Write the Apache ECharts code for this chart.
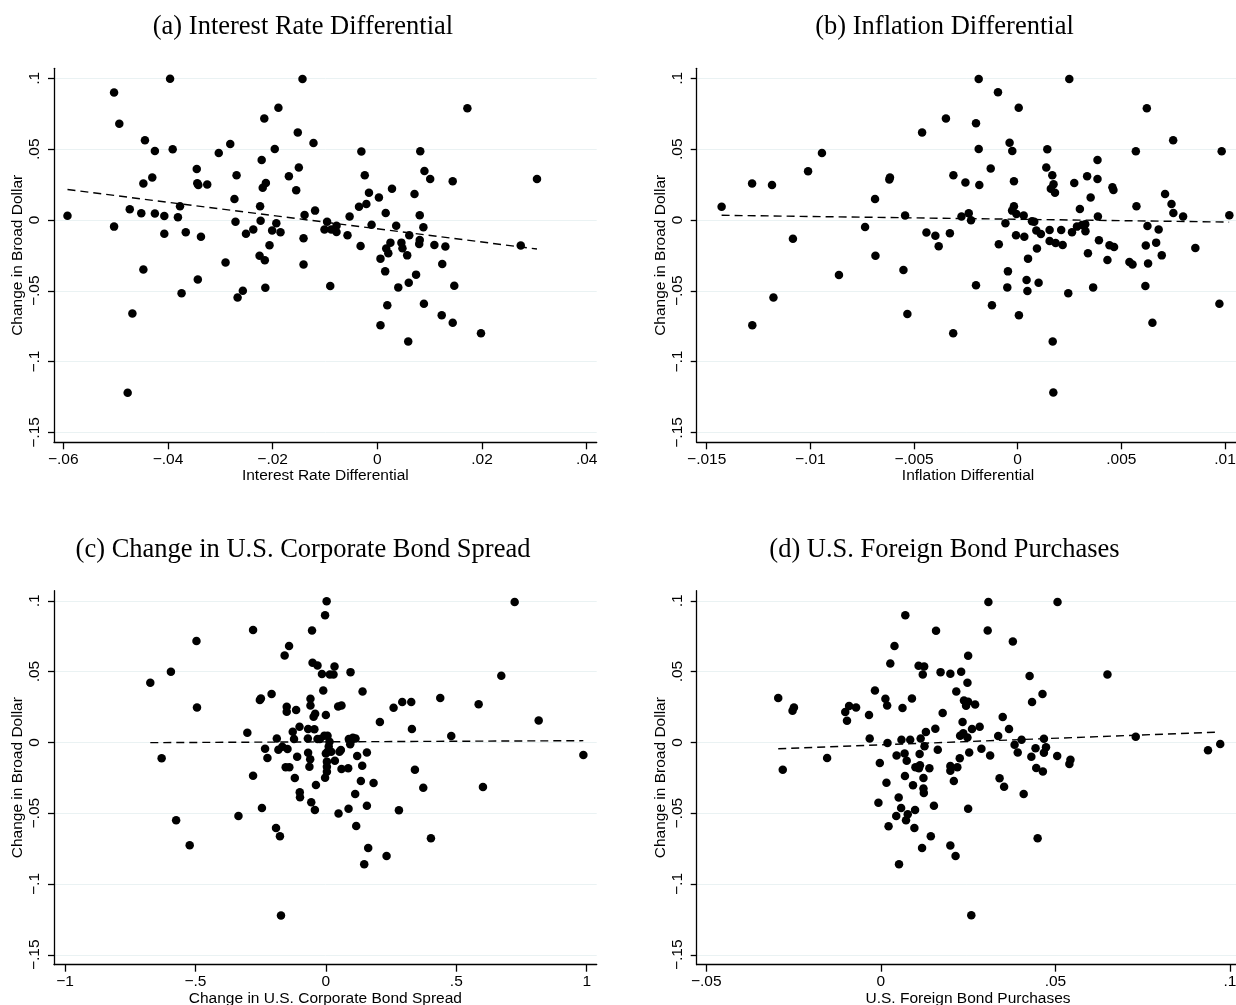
<!DOCTYPE html>
<html>
<head>
<meta charset="utf-8">
<script src="https://cdn.jsdelivr.net/npm/echarts@6/dist/echarts.min.js"></script>
<style>
html,body{margin:0;padding:0;background:#fff;}
#chart{width:1236px;height:1005px;}
</style>
</head>
<body>
<div id="chart"></div>
<script>
// ---------- Panel titles and axis names ----------
const panelTitles = ['(a) Interest Rate Differential', '(b) Inflation Differential',
  '(c) Change in U.S. Corporate Bond Spread', '(d) U.S. Foreign Bond Purchases'];
const xAxisNames = ['Interest Rate Differential', 'Inflation Differential',
  'Change in U.S. Corporate Bond Spread', 'U.S. Foreign Bond Purchases'];
const yAxisName = 'Change in Broad Dollar';

// ---------- Tick values and labels ----------
const yTicks = [-0.15, -0.1, -0.05, 0, 0.05, 0.1];
const yTickLabels = ['\u2212.15', '\u2212.1', '\u2212.05', '0', '.05', '.1'];
const xTicksA = [-0.06, -0.04, -0.02, 0, 0.02, 0.04];
const xTickLabelsA = ['\u2212.06', '\u2212.04', '\u2212.02', '0', '.02', '.04'];
const xTicksB = [-0.015, -0.01, -0.005, 0, 0.005, 0.01];
const xTickLabelsB = ['\u2212.015', '\u2212.01', '\u2212.005', '0', '.005', '.01'];
const xTicksC = [-1, -0.5, 0, 0.5, 1];
const xTickLabelsC = ['\u22121', '\u2212.5', '0', '.5', '1'];
const xTicksD = [-0.05, 0, 0.05, 0.1];
const xTickLabelsD = ['\u2212.05', '0', '.05', '.1'];

// ---------- (a) Interest Rate Differential ----------
const aX = [-0.0592,-0.0503,-0.0503,-0.0493,-0.0477,-0.0473,-0.0468,-0.0451,-0.0447,-0.0447,
  -0.0444,-0.0430,-0.0425,-0.0425,-0.0407,-0.0407,-0.0396,-0.0391,-0.0381,-0.0377,
  -0.0374,-0.0366,-0.0345,-0.0344,-0.0343,-0.0342,-0.0337,-0.0325,-0.0303,-0.0290,
  -0.0281,-0.0273,-0.0271,-0.0269,-0.0267,-0.0257,-0.0251,-0.0237,-0.0225,-0.0224,
  -0.0223,-0.0221,-0.0219,-0.0216,-0.0215,-0.0214,-0.0213,-0.0206,-0.0201,-0.0196,
  -0.0193,-0.0189,-0.0185,-0.0169,-0.0155,-0.0152,-0.0150,-0.0143,-0.0141,-0.0141,
  -0.0139,-0.0122,-0.0119,-0.0101,-0.0096,-0.0090,
  -0.00305,-0.0024,-0.0016,0.0003,-0.0035,-0.0021,-0.0053,-0.0088,-0.0078,-0.0078,
  -0.0057,-0.0011,-0.0032,0.0028,0.0016,0.0036,0.0025,0.0017,0.0021,0.0006,
  0.0015,0.0019,0.0006,0.0040,0.0046,0.0048,0.0057,0.0061,0.0060,0.0059,
  0.0074,0.0071,0.0082,0.0090,0.0101,0.0081,0.0088,0.0081,0.0080,0.0089,
  0.0109,0.0130,0.0124,0.0123,0.0144,0.0147,0.0144,0.0172,0.0198,0.0274,0.0305];
const aY = [0.003,0.090,-0.0047,0.068,-0.122,0.0075,-0.066,0.0047,0.0257,-0.035,
  0.0563,0.030,0.0487,0.0045,0.0028,-0.0097,0.0998,0.050,0.002,0.0097,
  -0.0518,-0.0087,0.036,0.026,-0.042,0.0247,-0.0118,0.025,0.0473,-0.030,
  0.0537,0.0148,-0.0012,0.0315,-0.0548,-0.050,-0.0097,-0.0068,-0.0252,0.0097,
  -0.0005,0.0424,0.0228,0.0716,-0.0285,-0.0478,0.0261,-0.0179,-0.0075,0.0501,
  -0.0024,0.0793,-0.0087,0.0308,0.021,0.0617,0.037,0.0996,-0.0129,-0.0315,
  0.0035,0.0544,0.0066,-0.0068,-0.0012,-0.0466,
  0.0483,0.0315,0.0193,0.0158,0.0094,0.0113,0.0024,-0.0068,-0.0085,-0.004,
  -0.0108,-0.0033,-0.0184,0.0221,0.0049,-0.004,-0.016,-0.0202,-0.0235,-0.0273,
  -0.0363,-0.0603,-0.0744,-0.0476,-0.016,-0.020,-0.025,-0.0108,-0.0443,-0.0859,
  -0.0386,0.0184,0.0485,0.0346,0.029,0.0033,-0.0052,-0.0141,-0.017,-0.0591,
  -0.0177,-0.0188,-0.0311,-0.0673,0.0273,-0.0464,-0.0725,0.0789,-0.080,-0.0181,0.029];
const aFitX = [-0.0592, 0.0305];
const aFitY = [0.0215, -0.0205];

// ---------- (b) Inflation Differential ----------
const bX = [-0.01428,-0.01281,-0.0128,-0.01185,-0.01178,-0.01084,-0.01011,-0.00944,-0.00862,-0.00736,
  -0.00688,-0.00686,-0.00619,-0.00616,-0.00551,-0.00543,-0.00532,-0.00461,-0.00440,-0.00397,
  -0.00381,-0.00346,-0.00327,-0.0031,-0.00311,-0.00271,-0.00252,-0.00236,-0.00225,-0.00201,
  -0.00201,-0.00188,-0.00188,-0.00185,-0.0013,-0.00124,-0.00095,-0.00091,-0.00059,-0.0005,
  -0.00047,-0.00039,-0.00026,-0.00018,-0.00018,-0.00027,-0.00006,-0.00008,0.00005,0.00006,
  0.00029,0.00032,0.00043,0.00047,0.0005,0.00069,0.0008,0.0009,0.00093,0.00101,
  0.00112,0.00138,0.00143,0.00154,0.00154,0.00167,0.00169,0.00172,0.00173,0.0016,
  0.0018,0.00183,0.0021,0.00217,0.00244,0.00249,0.00262,0.00273,0.00286,0.003,
  0.0031,0.00326,0.00327,0.00335,0.00339,0.00352,0.00364,0.00385,0.00385,0.00387,
  0.00392,0.00433,0.00443,0.00457,0.00462,0.00465,0.00539,0.00554,0.0057,0.00573,
  0.00616,0.00618,0.00623,0.00626,0.00629,0.0065,0.00668,0.0068,0.00695,0.00711,
  0.00742,0.0075,0.00751,0.00798,0.00857,0.00973,0.00984,0.01021];
const bY = [0.0094,0.0257,-0.0744,0.0247,-0.0548,-0.0132,0.0344,0.0473,-0.0388,-0.0049,
  0.0148,-0.0252,0.0285,0.0300,-0.0353,0.0031,-0.0664,0.0617,-0.0089,-0.0111,
  -0.0186,0.0716,-0.0094,0.0315,-0.080,0.0024,0.0264,0.0047,-0.0002,0.0683,
  -0.0461,0.0996,0.0501,0.0247,0.0363,-0.0603,0.0902,-0.0172,-0.0024,-0.0476,
  -0.0363,0.0546,0.0487,0.0273,0.0097,0.0066,0.0042,-0.0108,0.0793,-0.0673,
  0.0031,-0.0118,-0.0424,-0.0501,-0.0273,-0.0009,-0.0012,-0.0075,-0.0202,-0.0443,
  -0.0099,0.037,0.0499,-0.0071,-0.0148,0.0315,-0.0859,-0.1219,0.0252,0.0221,
  0.0193,-0.0162,-0.0071,-0.0177,-0.0518,0.0996,-0.0087,0.0261,-0.0047,0.0078,
  -0.0035,-0.0031,-0.008,0.0308,-0.0235,0.0158,-0.0476,0.0424,0.029,0.0024,
  -0.0144,-0.0282,-0.0179,0.0231,0.0212,-0.0191,-0.0297,-0.0315,0.0485,0.0097,
  -0.0466,-0.0181,0.0789,-0.0042,-0.0308,-0.0725,-0.016,-0.0068,-0.025,0.0184,
  0.0113,0.0563,0.0049,0.0024,-0.0198,-0.0591,0.0485,0.0033];
const bFitX = [-0.01428, 0.0102];
const bFitY = [0.0033, -0.0015];

// ---------- (c) Change in U.S. Corporate Bond Spread ----------
const cX = [-0.673,-0.6295,-0.594,-0.574,-0.522,-0.496,-0.494,-0.335,-0.301,-0.279,
  -0.279,-0.253,-0.249,-0.245,-0.233,-0.224,-0.208,-0.191,-0.188,-0.182,
  -0.176,-0.172,-0.167,-0.158,-0.154,-0.150,-0.150,-0.147,-0.141,-0.140,
  -0.127,-0.122,-0.119,-0.114,-0.110,-0.101,-0.100,-0.099,-0.069,-0.068,
  -0.068,-0.063,-0.060,-0.059,-0.059,-0.056,-0.053,-0.051,-0.047,-0.044,
  -0.042,-0.041,-0.038,-0.032,-0.032,-0.023,-0.015,-0.010,-0.003,0.000,
  -0.003,0.003,0.0153,0.0294,0.0332,0.0946,0.0473,0.060,0.1407,0.2596,
  0.2928,0.3274,0.4386,0.5857,0.6726,0.7238,0.2072,0.3299,0.4808,0.8159,
  0.9872,-0.006,0.0064,0.014,0.000,0.0064,0.0205,0.004,0.004,0.004,
  0.011,0.0345,0.0524,0.0575,0.060,0.0857,0.088,0.096,0.1036,0.1138,
  0.0934,0.1202,0.1573,0.1394,0.1343,0.1829,0.1125,0.1573,0.087,0.0486,
  0.1164,0.1624,0.1471,0.2327,0.2801,0.3414,0.3734,0.4028,0.6023];
const cY = [0.0421,-0.0113,0.0499,-0.055,-0.0727,0.0715,0.0247,-0.052,0.0068,0.0793,
  -0.0235,0.0299,0.031,-0.0463,-0.0045,-0.011,0.0341,-0.0604,0.0028,-0.0052,
  -0.0663,-0.1223,-0.0031,0.0614,-0.0176,0.0252,0.0216,-0.0047,0.068,-0.0176,
  0.0075,0.0024,-0.0252,0.0228,-0.0101,0.011,-0.0353,-0.0388,0.0028,0.0094,
  -0.0073,-0.0172,-0.012,0.0308,0.0261,-0.0423,0.079,0.0562,0.0181,0.0092,
  -0.0477,0.0202,-0.0301,0.0543,0.0024,0.0024,0.0482,0.0367,0.0898,0.0193,
  -0.025,0.0997,0.048,0.048,0.0536,0.0496,0.0254,0.0261,0.036,0.0245,
  0.0285,0.0285,0.0313,0.027,0.047,0.0992,0.0143,0.0094,0.0045,0.0155,
  -0.0089,0.0047,0.0047,0.0005,-0.0078,-0.0066,-0.0066,-0.0136,-0.0172,-0.0207,
  -0.003,-0.0129,-0.0066,-0.0054,-0.0188,-0.0183,0.0024,0.0009,0.0033,0.0028,
  -0.0014,-0.0096,-0.0071,-0.0165,-0.0273,-0.0287,-0.0365,-0.0447,-0.0468,-0.0503,
  -0.059,-0.0746,-0.0861,-0.0802,-0.048,-0.0193,-0.032,-0.0677,-0.0315];
const cFitX = [-0.673, 0.987];
const cFitY = [-0.0002, 0.0012];

// ---------- (d) U.S. Foreign Bond Purchases ----------
const dX = [-0.0294,-0.0281,-0.0253,-0.0249,-0.0154,-0.0102,-0.0097,-0.0091,-0.0071,-0.0034,
  -0.0032,-0.0017,-0.0007,-0.0003,0.0013,0.0018,0.0019,0.0016,0.0022,0.0027,
  0.0039,0.0045,0.0044,0.0051,0.0052,0.0058,0.0059,0.0062,0.0068,0.0069,
  0.007,0.0072,0.0074,0.0077,0.0084,0.0089,0.0092,0.0096,0.0098,0.0099,
  0.0108,0.0109,0.0111,0.0112,0.0114,0.0118,0.012,0.0122,0.0122,0.0123,
  0.0124,0.0125,0.0129,0.0139,0.0143,0.0152,0.0156,0.0158,0.0163,0.0171,
  0.0177,0.0199,0.0199,0.0199,0.0199,0.0209,0.0308,0.0306,0.0506,0.0378,
  0.025,0.023,0.0248,0.0216,0.0238,0.025,0.0244,0.027,0.0426,0.0463,
  0.0433,0.0649,0.0234,0.0349,0.0261,0.0283,0.0367,0.0227,0.0236,0.0248,
  0.0336,0.0403,0.0467,0.073,0.0383,0.0253,0.0288,0.0313,0.0392,0.0443,
  0.0473,0.0467,0.0431,0.0505,0.0543,0.054,0.0937,0.0972,0.0226,0.0219,
  0.0445,0.0464,0.034,0.0353,0.0409,0.025,0.0449,0.0214,0.0259];
const dY = [0.0313,-0.0193,0.0223,0.0247,-0.0111,0.0214,0.0153,0.0256,0.0247,0.0193,
  0.0028,0.0367,-0.0426,-0.0146,0.0308,0.0261,-0.0005,-0.0285,-0.0593,0.0557,
  0.068,-0.0092,-0.052,-0.039,-0.0861,-0.0463,0.0019,0.0242,-0.0078,-0.0238,
  0.0898,-0.055,-0.0129,-0.0508,0.0019,0.031,-0.0303,-0.0604,-0.0477,-0.0176,
  0.0541,-0.0183,-0.0082,-0.0162,0.0028,-0.0746,0.048,-0.0252,-0.0325,-0.0357,
  0.0536,-0.0028,0.0073,-0.0183,-0.0663,-0.0447,0.0096,0.0788,-0.0052,0.0496,
  0.0207,0.0484,-0.02,-0.0729,-0.0167,-0.0273,0.0992,0.079,0.0992,0.0713,
  0.0611,0.0499,0.0421,0.036,0.0296,0.0287,0.0259,0.0268,0.0468,0.0341,
  0.0285,0.048,0.0143,0.0179,0.0094,0.011,0.0094,0.0047,0.0064,0.0035,
  0.0045,0.0019,0.0026,0.004,-0.0016,-0.0071,-0.0045,-0.0092,-0.0071,-0.0042,
  -0.0035,-0.0073,-0.0101,-0.0096,-0.0122,-0.0153,-0.0056,-0.0012,-0.0113,-0.0176,
  -0.0181,-0.0205,-0.0254,-0.0313,-0.0365,-0.0468,-0.0677,-0.0802,-0.1221];
const dFitX = [-0.0294, 0.0971];
const dFitY = [-0.0045, 0.0073];

// ---------- build chart ----------
const pairs = (xs, ys) => xs.map((x, i) => [x, ys[i]]);
const labelFor = (ticks, labels) => (v) => {
  for (let i = 0; i < ticks.length; i++) if (Math.abs(ticks[i] - v) < 1e-9) return labels[i];
  return '';
};

const panels = [
  { x: aX, y: aY, fx: aFitX, fy: aFitY, ticks: xTicksA, labels: xTickLabelsA, min: -0.061777, max: 0.04191, left: 54,    top: 68.3 },
  { x: bX, y: bY, fx: bFitX, fy: bFitY, ticks: xTicksB, labels: xTickLabelsB, min: -0.015482, max: 0.010695, left: 696.7, top: 68.3 },
  { x: cX, y: cY, fx: cFitX, fy: cFitY, ticks: xTicksC, labels: xTickLabelsC, min: -1.04217, max: 1.0383, left: 54,    top: 590.7 },
  { x: dX, y: dY, fx: dFitX, fy: dFitY, ticks: xTicksD, labels: xTickLabelsD, min: -0.05275, max: 0.10269, left: 696.7, top: 590.7 }
];
const titleCenters = [[298, 9], [939.5, 9], [298, 532], [939.5, 532]];

const axisFont = 'Liberation Sans, Arial, Helvetica, sans-serif';
const axisFontSize = 15.5;
const lineCol = '#000';

const option = {
  animation: false,
  backgroundColor: '#fff',
  title: panelTitles.map((t, i) => ({
    text: t, left: titleCenters[i][0], top: titleCenters[i][1], textAlign: 'center',
    textStyle: { fontFamily: 'Liberation Serif, Times New Roman, serif', fontSize: 26.5, fontWeight: 'normal', color: '#000' }
  })),
  grid: panels.map(p => ({ left: p.left, top: p.top, width: 542.7, height: 374, containLabel: false, outerBoundsMode: 'none', show: false })),
  xAxis: panels.map((p, i) => ({
    type: 'value', gridIndex: i, min: p.min, max: p.max,
    name: xAxisNames[i], nameLocation: 'middle', nameGap: 25,
    nameTextStyle: { fontFamily: axisFont, fontSize: axisFontSize, color: '#000' },
    axisLine: { show: true, onZero: false, lineStyle: { color: lineCol, width: 1.3 } },
    axisTick: { show: true, inside: false, length: 7, customValues: p.ticks, lineStyle: { color: lineCol, width: 1.3 } },
    axisLabel: { customValues: p.ticks, formatter: labelFor(p.ticks, p.labels), fontFamily: axisFont, fontSize: axisFontSize, color: '#000', margin: 9 },
    splitLine: { show: false }
  })),
  yAxis: panels.map((p, i) => ({
    type: 'value', gridIndex: i, min: -0.157, max: 0.1071,
    name: yAxisName, nameLocation: 'middle', nameGap: 28, nameRotate: 90,
    nameTextStyle: { fontFamily: axisFont, fontSize: axisFontSize, color: '#000' },
    axisLine: { show: true, onZero: false, lineStyle: { color: lineCol, width: 1.3 } },
    axisTick: { show: true, inside: false, length: 6, customValues: yTicks, lineStyle: { color: lineCol, width: 1.3 } },
    axisLabel: { customValues: yTicks, formatter: labelFor(yTicks, yTickLabels), rotate: 90, fontFamily: axisFont, fontSize: axisFontSize, color: '#000', margin: 11 },
    splitLine: { show: true, lineStyle: { color: '#eaf2f3', width: 1 } }
  })),
  series: []
};

panels.forEach((p, i) => {
  option.series.push({
    type: 'scatter', xAxisIndex: i, yAxisIndex: i, data: pairs(p.x, p.y),
    symbol: 'circle', symbolSize: 8.5, itemStyle: { color: '#000', opacity: 1 }, silent: true, z: 2
  });
  option.series.push({
    type: 'line', xAxisIndex: i, yAxisIndex: i, data: pairs(p.fx, p.fy),
    showSymbol: false, symbol: 'none', silent: true, z: 3,
    lineStyle: { color: '#000', width: 1.4, type: [8, 5] }
  });
});

const chart = echarts.init(document.getElementById('chart'), null, { renderer: 'canvas', width: 1236, height: 1005 });
chart.setOption(option);
</script>
</body>
</html>
